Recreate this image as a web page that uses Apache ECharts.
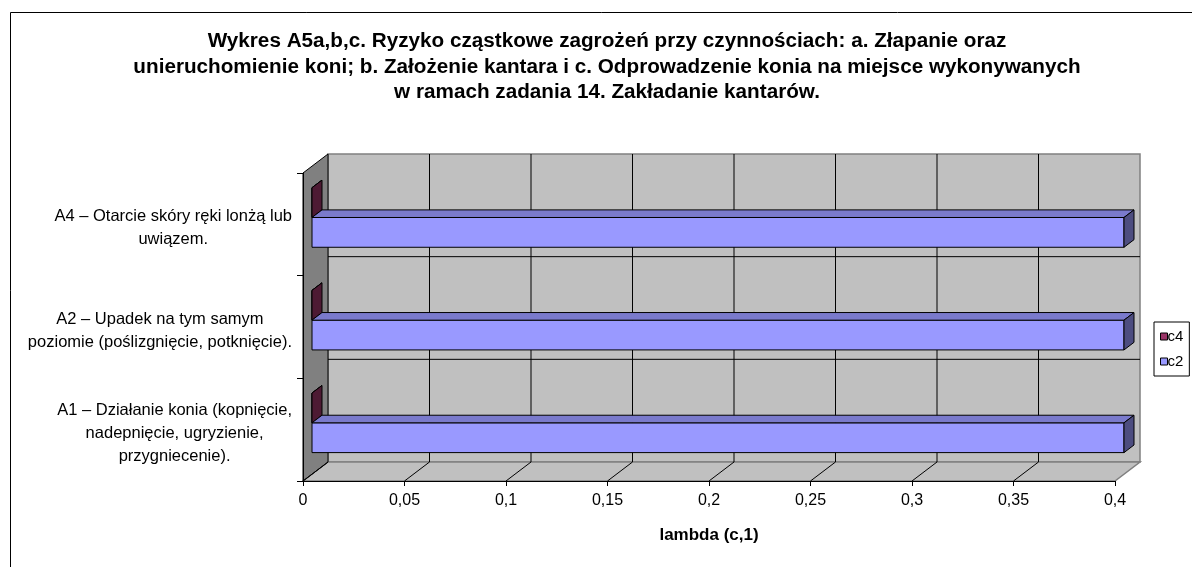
<!DOCTYPE html>
<html><head><meta charset="utf-8">
<script src="https://cdn.jsdelivr.net/npm/echarts@6/dist/echarts.min.js"></script>
<style>html,body{margin:0;padding:0;background:#fff}#c{width:1192px;height:567px}</style>
</head><body><div id="c"></div>
<script>
// ---- data ----
const titleText = 'Wykres A5a,b,c. Ryzyko cząstkowe zagrożeń przy czynnościach: a. Złapanie oraz\nunieruchomienie koni; b. Założenie kantara i c. Odprowadzenie konia na miejsce wykonywanych\nw ramach zadania 14. Zakładanie kantarów.';
const categories = [
  'A1 – Działanie konia (kopnięcie,\nnadepnięcie, ugryzienie,\nprzygniecenie).',
  'A2 – Upadek na tym samym\npoziomie (poślizgnięcie, potknięcie).',
  'A4 – Otarcie skóry ręki lonżą lub\nuwiązem.'
];
const seriesNames = ['c4', 'c2'];
const c4Values = [0, 0, 0];
const c2Values = [0.4, 0.4, 0.4];
const xTicks = [0, 0.05, 0.1, 0.15, 0.2, 0.25, 0.3, 0.35, 0.4];
const xAxisName = 'lambda (c,1)';

// ---- style ----
const FONT = "'Liberation Sans', Arial, sans-serif";
const DX = 25, DY = -19;          // 3D depth vector
const F1 = 0.36, F2 = 0.76;       // bar depth range (fraction of depth)
const BAR = 0.29;                 // bar thickness (fraction of band)
const palette = {
  c4: { front: '#993366', top: '#7a2952', end: '#4d1a33' },
  c2: { front: '#9999ff', top: '#7a7acc', end: '#4d4d80' }
};

const chart = echarts.init(document.getElementById('c'), null, { renderer: 'canvas' });

function frameRender(params, api) {
  const cs = params.coordSys;
  const x = cs.x, y = cs.y, W = cs.width, H = cs.height;
  const children = [];
  children.push({ type: 'rect', shape: { x: x + DX, y: y + DY, width: W, height: H },
    style: { fill: '#c0c0c0', stroke: '#808080', lineWidth: 1.5 } });
  children.push({ type: 'polygon', shape: { points: [[x, y + H], [x + W, y + H], [x + W + DX, y + H + DY], [x + DX, y + H + DY]] },
    style: { fill: '#c0c0c0', stroke: '#808080', lineWidth: 1.5 } });
  children.push({ type: 'polygon', shape: { points: [[x, y], [x + DX, y + DY], [x + DX, y + H + DY], [x, y + H]] },
    style: { fill: '#808080', stroke: '#000', lineWidth: 1 } });
  xTicks.forEach(function (t, i) {
    const px = api.coord([t, 0])[0];
    if (i > 0 && i < xTicks.length - 1) {
      children.push({ type: 'line', shape: { x1: px + DX, y1: y + DY, x2: px + DX, y2: y + H + DY },
        style: { stroke: '#000', lineWidth: 1 } });
    }
    if (i < xTicks.length - 1) {
      children.push({ type: 'line', shape: { x1: px, y1: y + H, x2: px + DX, y2: y + H + DY },
        style: { stroke: '#000', lineWidth: 1 } });
    }
  });
  const band = api.size([0, 1])[1];
  for (let i = 0; i < categories.length - 1; i++) {
    const cy = api.coord([0, i])[1] - band / 2;
    children.push({ type: 'line', shape: { x1: x + DX, y1: cy + DY, x2: x + W + DX, y2: cy + DY },
      style: { stroke: '#000', lineWidth: 1 } });
  }
  return { type: 'group', children: children };
}

function barRender(name, lo, hi) {
  return function (params, api) {
    const v = api.value(0), cat = api.value(1);
    const p0 = api.coord([0, cat]);
    const p1 = api.coord([v, cat]);
    const band = api.size([0, 1])[1];
    const yT = p0[1] + lo * band, yB = p0[1] + hi * band;
    const fx = F1 * DX, fy = F1 * DY, bx = F2 * DX, by = F2 * DY;
    const xa = p0[0], xb = p1[0];
    const col = palette[name];
    const st = { stroke: '#000', lineWidth: 1 };
    return { type: 'group', children: [
      { type: 'rect', shape: { x: xa + fx, y: yT + fy, width: xb - xa, height: yB - yT },
        style: Object.assign({ fill: col.front }, st) },
      { type: 'polygon', shape: { points: [[xa + fx, yT + fy], [xb + fx, yT + fy], [xb + bx, yT + by], [xa + bx, yT + by]] },
        style: Object.assign({ fill: col.top }, st) },
      { type: 'polygon', shape: { points: [[xb + fx, yT + fy], [xb + bx, yT + by], [xb + bx, yB + by], [xb + fx, yB + fy]] },
        style: Object.assign({ fill: col.end }, st) }
    ] };
  };
}

const option = {
  animation: false,
  backgroundColor: '#fff',
  textStyle: { fontFamily: FONT },
  graphic: [{ type: 'rect', left: 8, top: 10, shape: { width: 1400, height: 800 },
    style: { fill: 'none', stroke: '#000', lineWidth: 1 }, z: -10, silent: true }],
  title: {
    text: titleText, left: 607, top: 29, textAlign: 'center', padding: 0,
    textStyle: { fontFamily: FONT, fontWeight: 'bold', fontSize: 20.7, lineHeight: 25.5, color: '#000' }
  },
  legend: {
    data: seriesNames, orient: 'vertical', left: 1154, top: 322,
    padding: [7, 6], itemGap: 10, itemWidth: 7, itemHeight: 7, icon: 'rect',
    borderColor: '#000', borderWidth: 1, backgroundColor: '#fff',
    itemStyle: { borderColor: '#000', borderWidth: 1 },
    textStyle: { fontFamily: FONT, fontSize: 15, color: '#000', padding: [0, 0, 0, -5] }
  },
  grid: { left: 303, top: 173, width: 812, height: 308, containLabel: false },
  xAxis: {
    type: 'value', min: xTicks[0], max: xTicks[xTicks.length - 1], interval: 0.05, z: 5,
    name: xAxisName, nameLocation: 'middle', nameGap: 46,
    nameTextStyle: { fontFamily: FONT, fontWeight: 'bold', fontSize: 17, color: '#000' },
    axisLine: { show: true, lineStyle: { color: '#000', width: 1 } },
    axisTick: { show: true, length: 5, lineStyle: { color: '#000' } },
    splitLine: { show: false },
    axisLabel: { margin: 12, fontFamily: FONT, fontSize: 16, color: '#000',
      formatter: function (v) { return String(+v.toFixed(2)).replace('.', ','); } }
  },
  yAxis: {
    type: 'category', data: categories, z: 5,
    axisLine: { show: true, lineStyle: { color: '#000', width: 1 } },
    axisTick: { show: true, length: 6, lineStyle: { color: '#000' } },
    splitLine: { show: false },
    axisLabel: {
      margin: 11, align: 'right', fontFamily: FONT, fontSize: 16.5, color: '#000',
      padding: [8, 0, 0, 0],
      formatter: function (s) { return s.split('\n').map(function (l) { return '{c|' + l + '}'; }).join('\n'); },
      rich: { c: { align: 'center', fontFamily: FONT, fontSize: 16.5, lineHeight: 23, color: '#000' } }
    }
  },
  series: [
    { type: 'custom', name: '__frame', z: 1, silent: true, clip: false,
      renderItem: frameRender, data: [[0, 0]], encode: { x: 0, y: 1 } },
    { type: 'custom', name: seriesNames[0], z: 2, clip: false,
      itemStyle: { color: palette.c4.front },
      renderItem: barRender('c4', -BAR, 0),
      data: c4Values.map(function (v, i) { return [v, i]; }), encode: { x: 0, y: 1 } },
    { type: 'custom', name: seriesNames[1], z: 3, clip: false,
      itemStyle: { color: palette.c2.front },
      renderItem: barRender('c2', 0, BAR),
      data: c2Values.map(function (v, i) { return [v, i]; }), encode: { x: 0, y: 1 } }
  ]
};
chart.setOption(option);
</script></body></html>
